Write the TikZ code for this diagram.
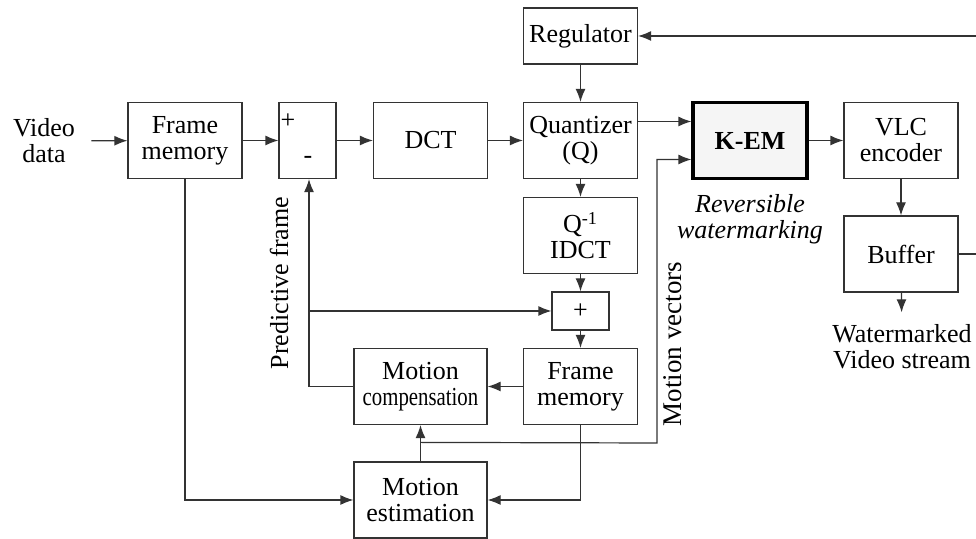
\documentclass[tikz,border=0pt]{standalone}
\usepackage{fontspec}
\setmainfont{Liberation Serif}
\usetikzlibrary{arrows.meta}

\tikzset{
  blk/.style={draw=black!80,line width=0.6pt,fill=white,inner sep=0pt,
    minimum width=57pt,minimum height=38pt,align=center},
  smallblk/.style={blk,minimum width=28.5pt,minimum height=19pt},
  txt/.style={align=center,inner sep=2pt},
  arr/.style={draw=black!80,line width=0.6pt,-{Latex[length=6.5pt,width=5pt]}},
  ln/.style={draw=black!80,line width=0.6pt}
}

\begin{document}
\begin{tikzpicture}[x=0.5pt,y=-0.5pt,font=\fontsize{13pt}{13pt}\selectfont]
  \useasboundingbox (0,0) rectangle (976,539);

  % forward path
  \node[txt] (vin) at (44,141) {Video\\data};
  \node[blk] (fm1) at (185,140.5) {Frame\\memory};
  \node[blk,minimum width=28.5pt] (sum) at (307.5,140.5) {};
  \node (sump) at (288,121) {+};
  \node (summ) at (308,160) {-};
  \node[blk] (dct) at (430.5,140.5) {DCT};
  \node[blk] (quant) at (580.5,140.5) {Quantizer\\(Q)};
  \node[blk,minimum height=28pt] (reg) at (580.5,36) {Regulator};
  \node[blk,line width=1.6pt,draw=black,fill=black!4] (kem) at (750,140.5) {\textbf{K-EM}};
  \node[txt,font=\fontsize{13pt}{13pt}\selectfont\itshape] (rev) at (750,219) {Reversible\\watermarking};
  \node[blk] (vlc) at (901,140.5) {VLC\\encoder};
  \node[blk] (buf) at (901,254) {Buffer};
  \node[txt] (wm) at (902,347) {Watermarked\\Video stream};

  % reconstruction loop
  \node[blk] (idct) at (580.5,235.5) {Q\textsuperscript{-1}\\IDCT};
  \node[smallblk] (plus) at (580.5,311) {+};
  \node[blk] (fm2) at (580.5,386.5) {Frame\\memory};
  \node[blk,minimum width=66.5pt] (mc) at (420.5,386.5) {Motion\\\scalebox{0.8}[1]{compensation}};
  \node[blk,minimum width=66.5pt] (me) at (420.5,500) {Motion\\estimation};

  \node[rotate=90] (pf) at (279,283) {Predictive frame};
  \node[rotate=90,font=\fontsize{13.5pt}{13.5pt}\selectfont] (mv) at (673,344) {Motion vectors};

  \coordinate (rt) at (990,0);
  \coordinate (mvx) at (657,443);

  \draw[arr,shorten <=6pt] (vin) -- (fm1);
  \draw[arr] (fm1) -- (sum);
  \draw[arr] (sum) -- (dct);
  \draw[arr] (dct) -- (quant);
  \draw[arr] ([yshift=9.5pt]quant.east) -- ([yshift=9.5pt]kem.west);
  \draw[arr] (kem) -- (vlc);
  \draw[arr] (vlc) -- (buf);
  \draw[arr,shorten >=4pt] (buf) -- (wm);
  \draw[arr] (buf.east) -- (buf.east -| rt) |- (reg.east);
  \draw[arr] (reg) -- (quant);

  \draw[arr] (quant) -- (idct);
  \draw[arr] (idct) -- (plus);
  \draw[arr] (plus) -- (fm2);
  \draw[arr] (fm2) -- (mc);
  \draw[arr] (mc.west) -| ([xshift=0.75pt]sum.south);
  \draw[arr] (plus.west -| sum.south) ++(0.75pt,0) -- (plus.west);

  \draw[arr] (fm1.south) |- (me.west);
  \draw[arr] (fm2.south) |- (me.east);
  \draw[arr] (me) -- (mc);
  \draw[arr] ([yshift=9.5pt]me.north) -- (mvx) |- ([yshift=-9.5pt]kem.west);
\end{tikzpicture}
\end{document}
